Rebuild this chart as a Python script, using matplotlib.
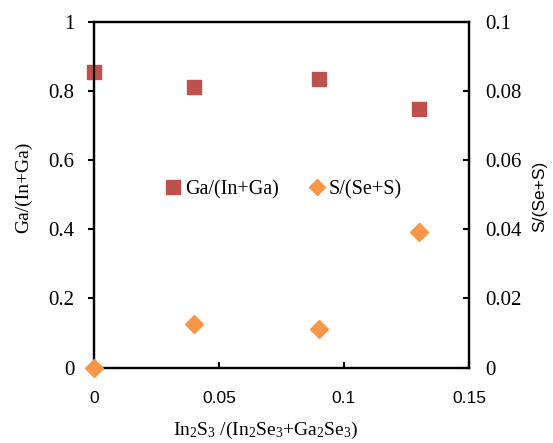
import matplotlib
matplotlib.use("Agg")
import matplotlib.pyplot as plt
from matplotlib.lines import Line2D

plt.rcParams['font.family'] = ['Liberation Serif', 'DejaVu Serif']
plt.rcParams['mathtext.fontset'] = 'custom'
plt.rcParams['mathtext.rm'] = 'Liberation Serif'
plt.rcParams['mathtext.it'] = 'Liberation Serif:italic'

# In2S3 fraction in the precursor mix
x_frac = [0.0, 0.04, 0.09, 0.13]
# composition ratios of the films
ga_ratio = [0.855, 0.812, 0.834, 0.749]
s_ratio = [0.0, 0.0126, 0.0111, 0.0393]

x_ticks = [0, 0.05, 0.1, 0.15]
x_ticklabels = ['0', '0.05', '0.1', '0.15']
left_ticks = [0, 0.2, 0.4, 0.6, 0.8, 1]
left_ticklabels = ['0', '0.2', '0.4', '0.6', '0.8', '1']
right_ticks = [0, 0.02, 0.04, 0.06, 0.08, 0.1]
right_ticklabels = ['0', '0.02', '0.04', '0.06', '0.08', '0.1']

red = '#C0504D'
orange = '#F79646'

fig = plt.figure(figsize=(5.53, 4.43), dpi=100)
ax = fig.add_axes([0.170, 0.170, 0.678, 0.781])
ax2 = ax.twinx()

ax.plot(x_frac, ga_ratio, 's', color=red, ms=10, clip_on=False, zorder=5)
ax2.plot(x_frac, s_ratio, 'D', color=orange, ms=9.5, clip_on=False, zorder=5)

ax.set_xlim(0, 0.15)
ax.set_ylim(0, 1)
ax2.set_ylim(0, 0.1)

ax.set_xticks(x_ticks)
ax.set_xticklabels(x_ticklabels, family='Liberation Sans', fontsize=12.5)
ax.set_yticks(left_ticks)
ax.set_yticklabels(left_ticklabels, fontsize=15)
ax2.set_yticks(right_ticks)
ax2.set_yticklabels(right_ticklabels, fontsize=15)

ax.tick_params(axis='x', direction='in', length=4, width=1.5, pad=17)
ax.tick_params(axis='y', direction='out', length=4, width=1.5, pad=10)
ax2.tick_params(axis='y', direction='in', length=4, width=1.5, pad=12)

for a in (ax, ax2):
    for sp in a.spines.values():
        sp.set_linewidth(1.6)

ax.set_xlabel(r'In$_2$S$_3$ /(In$_2$Se$_3$+Ga$_2$Se$_3$)', fontsize=14)
ax.xaxis.set_label_coords(0.457, -0.152)
ax.set_ylabel('Ga/(In+Ga)', fontsize=14)
ax.yaxis.set_label_coords(-0.165, 0.52)
ax2.set_ylabel('S/(Se+S)', family='Liberation Sans', fontsize=12.5)
ax2.yaxis.set_label_coords(1.168, 0.495)

handles = [
    Line2D([], [], marker='s', ls='none', color=red, ms=10),
    Line2D([], [], marker='D', ls='none', color=orange, ms=8),
]
ax2.legend(handles, ['Ga/(In+Ga)', 'S/(Se+S)'], loc='center', bbox_to_anchor=(0.505, 0.515),
           ncol=2, frameon=False, fontsize=14.5, handlelength=0.8, handletextpad=0.2,
           columnspacing=1.5)

fig.savefig('out.png', dpi=100)
